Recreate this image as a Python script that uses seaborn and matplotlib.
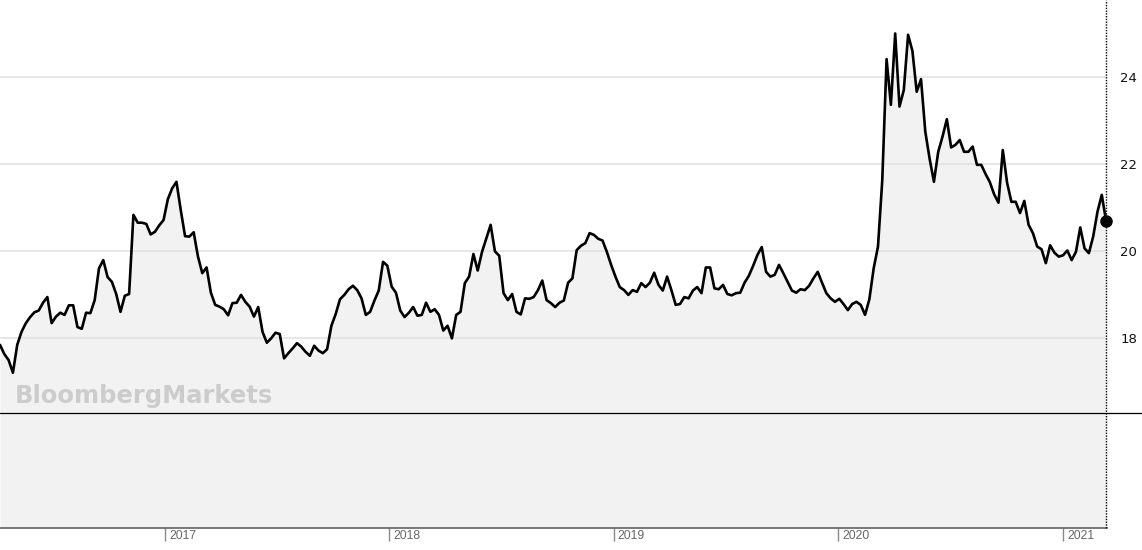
# Weekly price line, Bloomberg-style 5Y chart
import pandas as pd
import matplotlib.pyplot as plt
import seaborn as sns
from matplotlib.lines import Line2D

start_date = '2016-04-08'
values = [
    17.84, 17.63, 17.49, 17.20, 17.84, 18.14, 18.34, 18.48, 18.59, 18.63,
    18.81, 18.94, 18.34, 18.49, 18.58, 18.53, 18.75, 18.75, 18.25, 18.21,
    18.58, 18.57, 18.87, 19.60, 19.79, 19.40, 19.29, 19.01, 18.60, 18.97,
    19.01, 20.83, 20.65, 20.65, 20.62, 20.38, 20.44, 20.59, 20.71, 21.19,
    21.44, 21.59, 20.94, 20.34, 20.33, 20.43, 19.87, 19.49, 19.62, 19.04,
    18.76, 18.72, 18.66, 18.52, 18.80, 18.81, 18.99, 18.83, 18.72, 18.49,
    18.71, 18.14, 17.89, 17.99, 18.12, 18.09, 17.53, 17.65, 17.76, 17.88,
    17.80, 17.68, 17.59, 17.82, 17.71, 17.65, 17.74, 18.28, 18.55, 18.89,
    18.99, 19.12, 19.20, 19.10, 18.91, 18.53, 18.60, 18.86, 19.09, 19.75,
    19.66, 19.18, 19.04, 18.63, 18.48, 18.58, 18.71, 18.51, 18.53, 18.81,
    18.60, 18.66, 18.53, 18.17, 18.28, 17.99, 18.53, 18.60, 19.26, 19.41,
    19.93, 19.55, 19.98, 20.29, 20.60, 19.99, 19.89, 19.03, 18.87, 19.01,
    18.60, 18.54, 18.91, 18.90, 18.94, 19.10, 19.32, 18.87, 18.80, 18.71,
    18.81, 18.86, 19.27, 19.37, 20.02, 20.12, 20.18, 20.41, 20.37, 20.28,
    20.24, 19.98, 19.68, 19.41, 19.17, 19.10, 18.99, 19.10, 19.06, 19.26,
    19.17, 19.27, 19.50, 19.22, 19.09, 19.41, 19.10, 18.76, 18.78, 18.94,
    18.91, 19.09, 19.17, 19.03, 19.62, 19.62, 19.14, 19.12, 19.22, 19.01,
    18.98, 19.03, 19.04, 19.27, 19.43, 19.66, 19.91, 20.09, 19.52, 19.41,
    19.45, 19.68, 19.49, 19.29, 19.09, 19.04, 19.12, 19.10, 19.20, 19.37,
    19.52, 19.27, 19.03, 18.91, 18.83, 18.90, 18.78, 18.64, 18.78, 18.83,
    18.76, 18.53, 18.89, 19.60, 20.10, 21.63, 24.41, 23.36, 25.00, 23.32,
    23.70, 24.97, 24.60, 23.66, 23.95, 22.74, 22.12, 21.59, 22.28, 22.63,
    23.03, 22.38, 22.44, 22.55, 22.28, 22.28, 22.40, 21.98, 21.98, 21.77,
    21.58, 21.30, 21.11, 22.32, 21.57, 21.13, 21.13, 20.87, 21.15, 20.60,
    20.41, 20.10, 20.04, 19.72, 20.13, 19.96, 19.87, 19.90, 20.01, 19.79,
    19.98, 20.54, 20.06, 19.95, 20.33, 20.90, 21.29, 20.69,
]
year_labels = ['2017', '2018', '2019', '2020', '2021']
y_ticks = [18, 20, 22, 24]

dates = pd.date_range(start_date, periods=len(values), freq='7D')
df = pd.DataFrame({'date': dates, 'value': values})
year_dates = pd.to_datetime([y + '-01-01' for y in year_labels])

sns.set_style('white')
plt.rcParams['font.family'] = ['DejaVu Sans']

W, H = 1142, 550
fig = plt.figure(figsize=(W / 100, H / 100), dpi=100)
ax = fig.add_axes([0, 22 / H, 1107 / W, 528 / H])

y_bottom, y_top = 13.63, 25.77
ax.fill_between(df['date'], df['value'], y_bottom, color='#f2f2f2', lw=0, zorder=0.3)
sns.lineplot(data=df, x='date', y='value', color='black', lw=1.9, ax=ax, zorder=3)
ax.plot(dates[-1], values[-1], 'o', ms=8, color='black', clip_on=False, zorder=5)
ax.axvline(dates[-1], color='black', lw=1, ls=(0, (1, 1)), clip_on=False, zorder=4)

ax.set_xlim(dates[0], dates[-1] + pd.Timedelta(days=1.5))
ax.set_ylim(y_bottom, y_top)
ax.set_xlabel('')
ax.set_ylabel('')

# y axis on the right, grid lines only
ax.yaxis.tick_right()
ax.set_yticks(y_ticks)
ax.set_yticklabels([str(t) for t in y_ticks])
ax.tick_params(axis='y', length=0, pad=9.5, labelsize=9.5, labelcolor='#111111')
ax.set_axisbelow(True)
ax.grid(axis='y', color='#e0e0e0', lw=1.1)
ax.grid(axis='x', visible=False)

# year ticks with labels to the right of the tick
ax.set_xticks(year_dates)
ax.set_xticklabels([''] * len(year_dates))
ax.tick_params(axis='x', direction='out', length=9.5, width=1.0, color='#888888', bottom=True)
for d, lab in zip(year_dates, year_labels):
    ax.annotate(lab, xy=(d, 0), xycoords=('data', 'axes fraction'),
                xytext=(3, -1.5), textcoords='offset points', ha='left', va='top',
                fontsize=8.7, color='#666666', family=['Liberation Sans', 'DejaVu Sans'])

for s in ['top', 'left', 'right']:
    ax.spines[s].set_visible(False)
ax.spines['bottom'].set_color('#555555')
ax.spines['bottom'].set_linewidth(1.1)

# separator between price and lower panel
fig.add_artist(Line2D([0, 1], [(H - 413) / H] * 2, transform=fig.transFigure,
                      color='black', lw=0.9))

fig.text(15 / W, (H - 403) / H, 'BloombergMarkets', fontsize=17.5, fontweight='bold',
         color='#cccccc', ha='left', va='baseline')

fig.savefig('out.png', dpi=100)
